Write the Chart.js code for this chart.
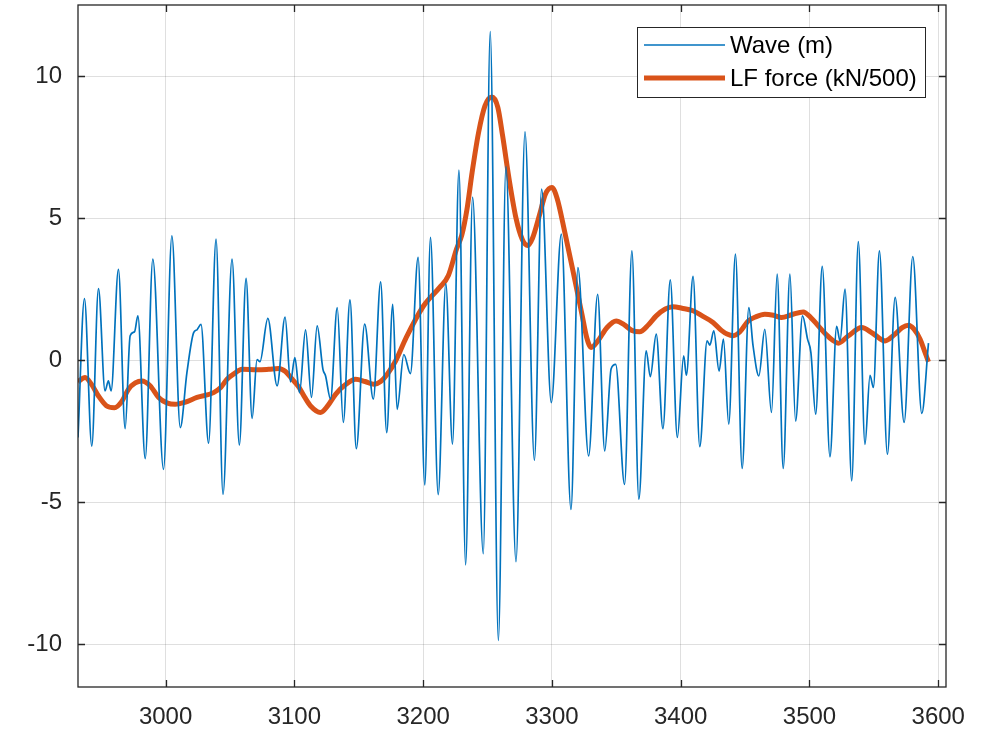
<!DOCTYPE html>
<html>
<head>
<meta charset="utf-8">
<script src="https://cdn.jsdelivr.net/npm/chart.js@4.4.1/dist/chart.umd.min.js"></script>
<style>
  html, body { margin: 0; padding: 0; background: #fff; }
  #chart { display: block; }
</style>
</head>
<body>
<canvas id="chart" width="994" height="731"></canvas>
<script>
// Wave elevation record (s, m)
const waveTime = [
  2932.0, 2937.0, 2942.7, 2947.9, 2953.0, 2955.6, 2957.7, 2963.4, 2968.6, 2972.5,
  2975.9, 2978.5, 2984.2, 2990.1, 2998.4, 3004.9, 3011.4, 3016.6, 3021.8, 3024.4,
  3027.5, 3033.4, 3039.2, 3044.6, 3051.6, 3057.3, 3062.5, 3067.2, 3071.0, 3073.3,
  3079.4, 3086.6, 3092.8, 3097.0, 3100.4, 3104.0, 3108.7, 3113.3, 3117.7, 3122.2,
  3124.2, 3128.1, 3133.3, 3138.0, 3143.2, 3148.1, 3154.6, 3161.3, 3167.0, 3171.7,
  3176.4, 3179.8, 3185.0, 3190.1, 3196.1, 3201.3, 3205.7, 3211.7, 3217.6, 3222.8,
  3227.8, 3233.0, 3238.4, 3246.7, 3252.1, 3258.4, 3264.3, 3272.1, 3279.1, 3286.4,
  3292.0, 3299.5, 3307.3, 3314.8, 3320.2, 3328.5, 3335.5, 3341.0, 3346.0, 3349.5,
  3356.4, 3362.1, 3367.5, 3373.2, 3376.4, 3381.0, 3386.2, 3391.9, 3397.4, 3402.3,
  3404.4, 3409.6, 3414.8, 3420.5, 3422.6, 3425.7, 3429.8, 3433.2, 3437.3, 3442.5,
  3447.7, 3452.9, 3456.2, 3460.7, 3465.3, 3470.5, 3474.9, 3479.6, 3484.8, 3489.2,
  3494.6, 3498.5, 3501.1, 3504.8, 3509.9, 3515.9, 3521.1, 3523.7, 3527.6, 3532.8,
  3537.9, 3543.1, 3547.0, 3549.6, 3554.3, 3560.5, 3566.5, 3573.5, 3580.2, 3587.2,
  3592.4
];
const waveElev = [
  -2.72, 2.17, -3.02, 2.52, -1.08, -0.73, -1.08, 3.20, -2.41, 0.86,
  1.00, 1.56, -3.46, 3.56, -3.84, 4.38, -2.37, -0.43, 0.97, 1.07,
  1.26, -2.92, 4.26, -4.72, 3.56, -2.98, 2.88, -2.05, 0.02, -0.05,
  1.47, -0.90, 1.52, -0.76, 0.09, -1.14, 1.07, -1.31, 1.21, -0.32,
  -0.55, -1.37, 1.85, -2.19, 2.12, -3.11, 1.27, -1.37, 2.76, -2.55,
  1.97, -1.73, 0.20, -0.47, 3.62, -4.39, 4.32, -4.73, 2.70, -2.95,
  6.69, -7.20, 5.74, -6.81, 11.56, -9.86, 6.81, -7.09, 8.04, -3.52,
  6.02, -1.49, 4.44, -5.25, 3.26, -3.37, 2.32, -3.19, -0.30, -0.15,
  -4.37, 3.85, -4.89, 0.33, -0.58, 0.92, -2.41, 2.83, -2.72, 0.15,
  -0.53, 2.95, -3.04, 0.68, 0.53, 1.03, -0.38, 0.74, -2.25, 3.73,
  -3.81, 1.85, 0.50, -0.55, 1.09, -1.84, 3.03, -3.81, 3.03, -2.14,
  1.56, 0.74, 0.27, -1.90, 3.30, -3.40, 1.19, 0.68, 2.50, -4.25,
  4.17, -2.96, -0.53, -0.96, 3.85, -3.31, 2.21, -2.19, 3.65, -1.87,
  0.60
];

// Low-frequency force, scaled by 1/500 (s, kN/500)
const forceTime = [
  2932.0, 2937.5, 2942.5, 2947.9, 2954.0, 2960.3, 2966.0, 2971.2, 2976.5, 2981.6,
  2988.0, 2994.6, 3001.0, 3007.5, 3015.0, 3024.4, 3037.3, 3043.0, 3047.7, 3053.0,
  3059.4, 3071.1, 3080.0, 3087.9, 3093.1, 3098.0, 3103.5, 3108.0, 3112.6, 3120.3,
  3126.0, 3132.0, 3140.0, 3147.6, 3155.0, 3161.8, 3167.0, 3172.0, 3178.7, 3187.0,
  3200.0, 3213.0, 3219.5, 3226.0, 3230.0, 3234.0, 3238.0, 3243.0, 3248.0, 3253.4,
  3258.0, 3261.7, 3267.0, 3272.1, 3277.0, 3281.2, 3285.0, 3290.3, 3295.0, 3300.0,
  3304.0, 3310.0, 3317.0, 3323.3, 3327.0, 3330.4, 3336.0, 3342.8, 3349.9, 3356.0,
  3362.0, 3368.1, 3375.0, 3381.0, 3388.0, 3394.0, 3401.0, 3409.6, 3417.0, 3425.1,
  3431.6, 3436.0, 3440.7, 3446.0, 3452.4, 3458.0, 3465.3, 3472.0, 3478.3, 3486.0,
  3495.2, 3501.0, 3506.8, 3513.0, 3518.0, 3522.4, 3530.0, 3540.5, 3549.0, 3558.7,
  3566.0, 3572.0, 3576.9, 3581.0, 3585.9, 3589.5, 3592.4
];
const forceValue = [
  -0.76, -0.61, -0.85, -1.26, -1.60, -1.67, -1.45, -1.02, -0.80, -0.73,
  -0.90, -1.31, -1.50, -1.55, -1.48, -1.31, -1.14, -0.95, -0.67, -0.48,
  -0.32, -0.34, -0.32, -0.29, -0.40, -0.65, -0.95, -1.30, -1.61, -1.84,
  -1.60, -1.20, -0.85, -0.67, -0.75, -0.85, -0.75, -0.50, -0.02, 0.81,
  1.89, 2.57, 2.97, 3.92, 4.40, 5.30, 6.60, 8.00, 8.95, 9.26,
  8.90, 7.90, 6.30, 5.00, 4.25, 4.04, 4.30, 5.10, 5.85, 6.08,
  5.70, 4.50, 3.00, 1.62, 0.80, 0.45, 0.70, 1.15, 1.38, 1.25,
  1.05, 1.00, 1.25, 1.56, 1.80, 1.88, 1.83, 1.74, 1.55, 1.33,
  1.05, 0.92, 0.86, 1.00, 1.38, 1.52, 1.62, 1.58, 1.50, 1.60,
  1.70, 1.50, 1.21, 0.90, 0.70, 0.60, 0.85, 1.15, 0.95, 0.68,
  0.90, 1.15, 1.23, 1.10, 0.74, 0.30, -0.06
];

const seriesLabels = ['Wave (m)', 'LF force (kN/500)'];
const seriesColors = ['#0072BD', '#D95319'];
const seriesWidths = [1.7, 5];

const xTicks = [3000, 3100, 3200, 3300, 3400, 3500, 3600];
const yTicks = [-10, -5, 0, 5, 10];

const axisColor = '#262626';
const gridColor = 'rgba(38,38,38,0.15)';
const fontFamily = '"Liberation Sans", Arial, Helvetica, sans-serif';

function toPoints(xs, ys) {
  return xs.map((x, i) => ({ x: x, y: ys[i] }));
}

// Box around the axes with inward tick marks on every side
const axesBox = {
  id: 'axesBox',
  afterDatasetsDraw(chart) {
    const { ctx, chartArea: a, scales } = chart;
    const len = 7;
    ctx.save();
    ctx.strokeStyle = axisColor;
    ctx.lineWidth = 1.3;
    ctx.strokeRect(a.left, a.top, a.right - a.left, a.bottom - a.top);
    ctx.beginPath();
    xTicks.forEach(v => {
      const px = Math.round(scales.x.getPixelForValue(v)) + 0.5;
      ctx.moveTo(px, a.bottom); ctx.lineTo(px, a.bottom - len);
      ctx.moveTo(px, a.top); ctx.lineTo(px, a.top + len);
    });
    yTicks.forEach(v => {
      const py = Math.round(scales.y.getPixelForValue(v)) + 0.5;
      ctx.moveTo(a.left, py); ctx.lineTo(a.left + len, py);
      ctx.moveTo(a.right, py); ctx.lineTo(a.right - len, py);
    });
    ctx.stroke();
    ctx.restore();
  }
};

// Legend box in the upper right corner of the plot
const boxLegend = {
  id: 'boxLegend',
  afterDraw(chart) {
    const { ctx, chartArea: a } = chart;
    const w = 288, h = 70;
    const x0 = a.right - 21 - w;
    const y0 = a.top + 22;
    ctx.save();
    ctx.fillStyle = '#fff';
    ctx.fillRect(x0, y0, w, h);
    ctx.strokeStyle = axisColor;
    ctx.lineWidth = 1;
    ctx.strokeRect(x0 + 0.5, y0 + 0.5, w, h);
    ctx.font = '24px ' + fontFamily;
    ctx.textBaseline = 'middle';
    ctx.fillStyle = '#000';
    seriesLabels.forEach((label, i) => {
      const cy = y0 + 18 + i * 33;
      ctx.strokeStyle = seriesColors[i];
      ctx.lineWidth = seriesWidths[i];
      ctx.beginPath();
      ctx.moveTo(x0 + 7, cy);
      ctx.lineTo(x0 + 88, cy);
      ctx.stroke();
      ctx.fillText(label, x0 + 93, cy + 1);
    });
    ctx.restore();
  }
};

// Drop the extra room Chart.js keeps for edge labels
function noEdgePadding(s) {
  s.paddingTop = 0;
  s.paddingBottom = 0;
  s.paddingLeft = 0;
  s.paddingRight = 0;
}

const chart = new Chart(document.getElementById('chart'), {
  type: 'line',
  data: {
    datasets: [
      {
        label: seriesLabels[0],
        data: toPoints(waveTime, waveElev),
        borderColor: seriesColors[0],
        borderWidth: seriesWidths[0],
        cubicInterpolationMode: 'monotone',
        pointRadius: 0,
        fill: false
      },
      {
        label: seriesLabels[1],
        data: toPoints(forceTime, forceValue),
        borderColor: seriesColors[1],
        borderWidth: seriesWidths[1],
        cubicInterpolationMode: 'monotone',
        pointRadius: 0,
        fill: false
      }
    ]
  },
  options: {
    responsive: false,
    animation: false,
    devicePixelRatio: 1,
    layout: { padding: { top: 5, right: 48, left: 0, bottom: 0 } },
    scales: {
      x: {
        type: 'linear',
        min: 2932,
        max: 3606,
        afterBuildTicks: s => { s.ticks = xTicks.map(v => ({ value: v })); },
        afterFit: s => { s.height = 44; noEdgePadding(s); },
        border: { display: false },
        grid: { color: gridColor, drawTicks: false },
        ticks: {
          color: axisColor,
          padding: 16,
          maxRotation: 0,
          font: { size: 24, family: fontFamily },
          callback: v => String(v)
        }
      },
      y: {
        min: -11.5,
        max: 12.5,
        afterBuildTicks: s => { s.ticks = yTicks.map(v => ({ value: v })); },
        afterFit: s => { s.width = 78; noEdgePadding(s); },
        border: { display: false },
        grid: { color: gridColor, drawTicks: false },
        ticks: {
          color: axisColor,
          padding: 16,
          font: { size: 24, family: fontFamily },
          callback: v => String(v)
        }
      }
    },
    plugins: {
      legend: { display: false },
      tooltip: { enabled: false }
    }
  },
  plugins: [axesBox, boxLegend]
});
</script>
</body>
</html>
